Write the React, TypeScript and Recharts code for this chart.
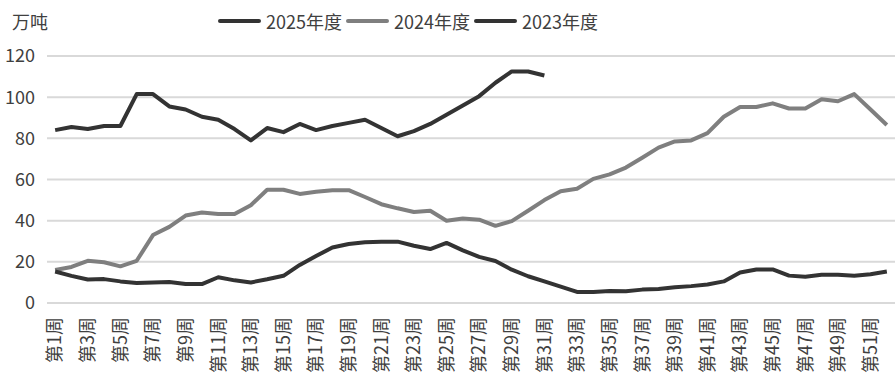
import { LineChart, Line, XAxis, YAxis, CartesianGrid, Legend } from "recharts";

// 第1周 ... 第52周
const weeks = Array.from({ length: 52 }, (_, i) => `第${i + 1}周`);

const seriesNames = ["2025年度", "2024年度", "2023年度"];

const y2025 = [
  84, 85.5, 84.5, 86, 86, 101.5, 101.5, 95.5, 94, 90.5,
  89, 84.5, 79, 85, 83, 87, 84, 86, 87.5, 89,
  85, 81, 83.5, 87, 91.5, 96, 100.5, 107, 112.5, 112.5,
  110.5,
];

const y2024 = [
  16, 17.5, 20.5, 19.8, 17.8, 20.5, 33, 37, 42.5, 44,
  43.2, 43.2, 47.5, 55, 55, 53, 54, 54.8, 54.8, 51.5,
  48, 46, 44.2, 44.8, 40, 41, 40.5, 37.5, 39.8, 44.8,
  50, 54.3, 55.5, 60.3, 62.5, 65.8, 70.6, 75.5, 78.5, 79,
  82.5, 90.5, 95.2, 95.2, 97, 94.5, 94.5, 99, 98, 101.5,
  94, 86.5,
];

const y2023 = [
  15.3, 13.2, 11.4, 11.6, 10.5, 9.7, 10, 10.2, 9.2, 9.2,
  12.5, 11, 10, 11.5, 13.2, 18.5, 22.8, 27, 28.7, 29.5,
  29.7, 29.8, 27.8, 26.2, 29.2, 25.6, 22.4, 20.4, 16.2, 13,
  10.5, 8, 5.4, 5.4, 5.8, 5.7, 6.5, 6.8, 7.6, 8.2,
  9, 10.5, 14.8, 16.3, 16.3, 13.3, 12.8, 13.7, 13.7, 13.2,
  14, 15.3,
];

const yTicks = [0, 20, 40, 60, 80, 100, 120];

const data = weeks.map((week, i) => ({
  week,
  y2025: y2025[i] ?? null,
  y2024: y2024[i] ?? null,
  y2023: y2023[i] ?? null,
}));

const FONT = '"Noto Sans CJK SC", "Noto Sans", sans-serif';
const TEXT = "#404040";
const DARK = "#333333";
const GRAY = "#7f7f7f";

function WeekTick({ x, y, payload }: any) {
  return (
    <text
      x={x}
      y={y}
      transform={`rotate(-90, ${x}, ${y})`}
      textAnchor="end"
      dy="0.35em"
      fontSize={18}
      fill={TEXT}
      fontFamily={FONT}
    >
      {payload.value}
    </text>
  );
}

function LegendContent({ payload }: any) {
  // keep the legend in series order (recharts sorts it by name otherwise)
  const items = [...(payload || [])].sort(
    (a: any, b: any) => seriesNames.indexOf(a.value) - seriesNames.indexOf(b.value)
  );
  return (
    <div
      style={{
        position: "relative",
        width: 896,
        height: 26,
        fontFamily: FONT,
        fontSize: 18,
        color: TEXT,
      }}
    >
      <span style={{ position: "absolute", left: 12, top: 0 }}>万吨</span>
      <div
        style={{
          position: "absolute",
          left: 218,
          top: 0,
          display: "flex",
          alignItems: "center",
          height: 26,
        }}
      >
        {items.map((entry: any) => (
          <div
            key={entry.value}
            style={{ display: "flex", alignItems: "center", marginRight: 4 }}
          >
            <span
              style={{
                display: "inline-block",
                width: 43,
                height: 4,
                borderRadius: 2,
                background: entry.color,
                marginRight: 5,
              }}
            />
            <span>{entry.value}</span>
          </div>
        ))}
      </div>
    </div>
  );
}

export default function App() {
  return (
    <div style={{ position: "absolute", left: 0, top: 0, background: "#fff" }}>
      <LineChart
        width={896}
        height={382}
        data={data}
        margin={{ top: 56, right: 1, bottom: 0, left: 0 }}
      >
        <CartesianGrid vertical={false} stroke="#d9d9d9" strokeWidth={2} />
        <XAxis
          dataKey="week"
          scale="band"
          interval={1}
          height={79}
          tickLine={false}
          axisLine={false}
          tickMargin={8}
          tick={<WeekTick />}
        />
        <YAxis
          domain={[0, 120]}
          ticks={yTicks}
          width={47}
          tickLine={false}
          axisLine={false}
          tickMargin={6}
          tick={{ fontSize: 18, fill: TEXT, fontFamily: FONT }}
        />
        <Legend
          verticalAlign="middle"
          align="center"
          wrapperStyle={{ top: 8, left: 0, width: 896 }}
          content={<LegendContent />}
        />
        <Line
          dataKey="y2025"
          name={seriesNames[0]}
          stroke={DARK}
          strokeWidth={4}
          dot={false}
          activeDot={false}
          strokeLinejoin="round"
          isAnimationActive={false}
        />
        <Line
          dataKey="y2024"
          name={seriesNames[1]}
          stroke={GRAY}
          strokeWidth={4}
          dot={false}
          activeDot={false}
          strokeLinejoin="round"
          isAnimationActive={false}
        />
        <Line
          dataKey="y2023"
          name={seriesNames[2]}
          stroke={DARK}
          strokeWidth={4}
          dot={false}
          activeDot={false}
          strokeLinejoin="round"
          isAnimationActive={false}
        />
      </LineChart>
    </div>
  );
}
